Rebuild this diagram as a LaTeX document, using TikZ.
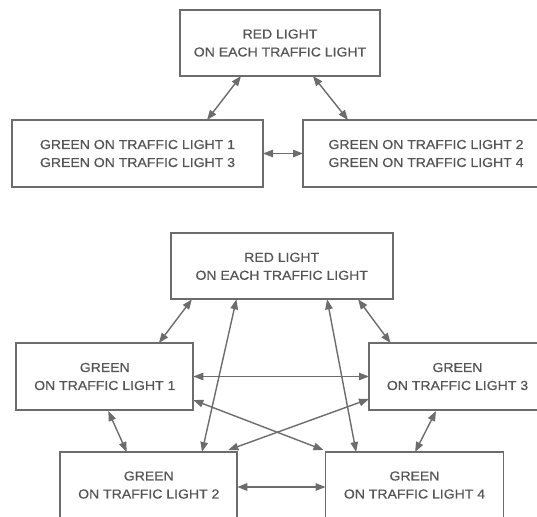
\documentclass[tikz,border=0pt]{standalone}
\usepackage{fontspec}
\setmainfont{Liberation Sans}[FakeStretch=1.08,FakeBold=0.5]
\usetikzlibrary{arrows.meta,calc}

\definecolor{boxgray}{RGB}{108,108,108}
\definecolor{textgray}{RGB}{85,85,85}

\tikzset{every picture/.style={line width=0.75pt},
	state/.style={draw=boxgray, line width=1.7pt, inner sep=0pt, outer sep=0pt, align=center, text=textgray, font=\fontsize{13}{18}\selectfont},
	link/.style={draw=boxgray, line width=1.4pt, {Triangle[length=10pt,width=7.5pt]}-{Triangle[length=10pt,width=7.5pt]}},
	thinlink/.style={link, line width=0.9pt}}

\begin{document}
\begin{tikzpicture}[x=1pt,y=1pt,yscale=-1,xscale=1]
		\path[use as bounding box] (0,0) rectangle (537,516);
		\clip (0,0) rectangle (537,516);

		%Upper diagram: two phases
		\node[state, minimum width=200pt, minimum height=66pt] (red1) at (280,43) {RED LIGHT\\ON EACH TRAFFIC LIGHT};
		\node[state, minimum width=251pt, minimum height=67pt] (g13) at (137.5,153.5) {GREEN ON TRAFFIC LIGHT 1\\GREEN ON TRAFFIC LIGHT 3};
		\node[state, minimum width=246pt, minimum height=67pt] (g24) at (426,153.5) {GREEN ON TRAFFIC LIGHT 2\\GREEN ON TRAFFIC LIGHT 4};

		\draw[link] ($(g13.north west)+(195,0)$) -- ($(red1.south west)+(61,0)$);
		\draw[link] ($(red1.south west)+(133,0)$) -- ($(g24.north west)+(45,0)$);
		\draw[thinlink] (g13.east) -- (g24.west);

		%Lower diagram: four phases
		\node[state, minimum width=222pt, minimum height=66pt] (red2) at (281.7,266.3) {RED LIGHT\\ON EACH TRAFFIC LIGHT};
		\node[state, minimum width=177pt, minimum height=67pt] (g1) at (104.8,376.5) {GREEN\\ON TRAFFIC LIGHT 1};
		\node[state, minimum width=177pt, minimum height=67pt] (g3) at (457.5,376.5) {GREEN\\ON TRAFFIC LIGHT 3};
		\node[state, minimum width=177pt, minimum height=66pt] (g2) at (148.8,485) {GREEN\\ON TRAFFIC LIGHT 2};
		\node[state, minimum width=178pt, minimum height=66pt] (g4) at (414.5,485) {GREEN\\ON TRAFFIC LIGHT 4};

		\draw[link] ($(g1.north west)+(142.6,0)$) -- ($(red2.south west)+(21.2,0)$);
		\draw[link] ($(g2.north west)+(141.7,0)$) -- ($(red2.south west)+(65.7,0)$);
		\draw[link] ($(red2.south west)+(156.4,0)$) -- ($(g4.north west)+(30.6,0)$);
		\draw[link] ($(red2.south west)+(187.4,0)$) -- ($(g3.north west)+(21.5,0)$);
		\draw[thinlink] (g1.east) -- (g3.west);
		\draw[link] ($(g1.south east)+(0,-10)$) -- ($(g4.north west)+(-2,-2)$);
		\draw[link] ($(g3.south west)+(0,-11)$) -- ($(g2.north east)+(-9,-2)$);
		\draw[link] ($(g1.south west)+(92,1)$) -- ($(g2.north west)+(66.4,0)$);
		\draw[link] ($(g3.south west)+(67,1)$) -- ($(g4.north west)+(89.6,0)$);
		\draw[link] ($(g2.east)+(0,2)$) -- ($(g4.west)+(0,2)$);

\end{tikzpicture}
\end{document}
